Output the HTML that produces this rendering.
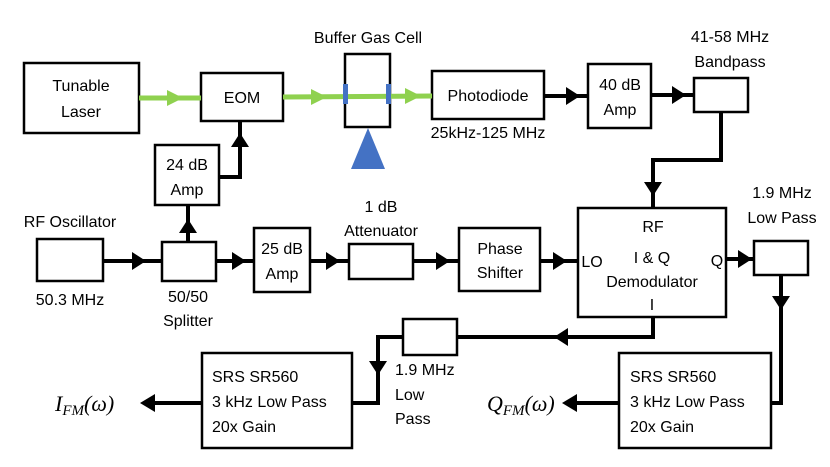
<!DOCTYPE html>
<html><head><meta charset="utf-8"><style>
html,body{margin:0;padding:0;background:#fff;}
svg{display:block;}
text{font-family:"Liberation Sans",sans-serif;font-size:16px;fill:#000;}
.m{font-family:"Liberation Serif",serif;font-style:italic;font-size:22px;}
</style></head><body>
<svg width="830" height="467" viewBox="0 0 830 467" xmlns="http://www.w3.org/2000/svg">
<g fill="none" stroke="#000" stroke-width="2.5">
<rect x="24" y="63" width="115" height="70"/>
<rect x="201" y="73" width="82" height="48"/>
<rect x="345" y="54" width="45" height="73"/>
<rect x="432" y="71" width="112" height="48"/>
<rect x="588" y="64" width="63" height="64"/>
<rect x="694" y="78" width="54" height="34"/>
<rect x="155" y="145" width="64" height="60"/>
<rect x="37" y="239" width="66" height="42"/>
<rect x="162" y="242" width="54" height="39"/>
<rect x="254" y="228" width="56" height="64"/>
<rect x="349" y="244" width="64" height="35"/>
<rect x="459" y="228" width="81" height="63"/>
<rect x="578" y="208" width="148" height="109"/>
<rect x="754" y="241" width="54" height="34"/>
<rect x="403" y="319" width="54" height="36"/>
<rect x="202" y="353" width="150" height="95"/>
<rect x="619" y="353" width="152" height="95"/>
</g>
<g stroke="#8fd14f" stroke-width="5" fill="none">
<line x1="139" y1="98" x2="201" y2="98"/>
<line x1="283" y1="97" x2="432" y2="96"/>
</g>
<g fill="#8fd14f">
<polygon points="167,90 183,98 167,106"/>
<polygon points="311,89 327,97 311,105"/>
<polygon points="405,88 421,96 405,104"/>
</g>
<g fill="#4472c4">
<rect x="343" y="84" width="5" height="20"/>
<rect x="386" y="84" width="5" height="20"/>
<polygon points="368,128 385,169 351,169"/>
</g>
<g stroke="#000" stroke-width="4" fill="none">
<line x1="544" y1="96" x2="588" y2="96"/>
<line x1="651" y1="95" x2="694" y2="95"/>
<polyline points="721,112 721,160 653,160 653,208"/>
<polyline points="219,177 240,177 240,121"/>
<line x1="188" y1="242" x2="188" y2="205"/>
<line x1="103" y1="261" x2="162" y2="261"/>
<line x1="216" y1="261" x2="254" y2="261"/>
<line x1="310" y1="261" x2="349" y2="261"/>
<line x1="413" y1="261" x2="459" y2="261"/>
<line x1="540" y1="261" x2="578" y2="261"/>
<line x1="726" y1="259" x2="754" y2="259"/>
<polyline points="781,275 781,403 771,403"/>
<polyline points="653,317 653,337 457,337"/>
<polyline points="403,337 378,337 378,403 352,403"/>
<line x1="202" y1="403" x2="150" y2="403"/>
<line x1="619" y1="403" x2="572" y2="403"/>
</g>
<g fill="#000">
<polygon points="566,87 580,96 566,105"/>
<polygon points="672,86 686,95 672,104"/>
<polygon points="644,182 662,182 653,196"/>
<polygon points="231,147 249,147 240,133"/>
<polygon points="179,233 197,233 188,219"/>
<polygon points="132,252 146,261 132,270"/>
<polygon points="232,252 246,261 232,270"/>
<polygon points="326,252 340,261 326,270"/>
<polygon points="436,252 450,261 436,270"/>
<polygon points="553,252 567,261 553,270"/>
<polygon points="738,250 752,259 738,268"/>
<polygon points="772,296 790,296 781,310"/>
<polygon points="568,328 568,346 554,337"/>
<polygon points="369,361 387,361 378,375"/>
<polygon points="155,394 155,412 140,403"/>
<polygon points="577,394 577,412 562,403"/>
</g>
<g text-anchor="middle">
<text x="81" y="91">Tunable</text><text x="81" y="117">Laser</text>
<text x="242" y="103">EOM</text>
<text x="368" y="43">Buffer Gas Cell</text>
<text x="488" y="101">Photodiode</text>
<text x="488" y="138">25kHz-125 MHz</text>
<text x="620" y="90">40 dB</text><text x="620" y="115">Amp</text>
<text x="730" y="42">41-58 MHz</text><text x="730" y="67">Bandpass</text>
<text x="187" y="170">24 dB</text><text x="187" y="195">Amp</text>
<text x="70" y="227">RF Oscillator</text>
<text x="70" y="305">50.3 MHz</text>
<text x="188" y="302">50/50</text><text x="188" y="326">Splitter</text>
<text x="282" y="254">25 dB</text><text x="282" y="279">Amp</text>
<text x="381" y="212">1 dB</text><text x="381" y="236">Attenuator</text>
<text x="500" y="254">Phase</text><text x="500" y="278">Shifter</text>
<text x="653" y="232">RF</text>
<text x="652" y="263">I &amp; Q</text>
<text x="652" y="287">Demodulator</text>
<text x="652" y="310">I</text>
<text x="592" y="267">LO</text>
<text x="717" y="266">Q</text>
<text x="782" y="198">1.9 MHz</text><text x="782" y="223">Low Pass</text>
</g>
<text x="395" y="375">1.9 MHz</text><text x="395" y="400">Low</text><text x="395" y="424">Pass</text>
<text x="212" y="382">SRS SR560</text><text x="212" y="407">3 kHz Low Pass</text><text x="212" y="432">20x Gain</text>
<text x="630" y="382">SRS SR560</text><text x="630" y="407">3 kHz Low Pass</text><text x="630" y="432">20x Gain</text>
<text class="m" x="55" y="411">I<tspan font-size="15" dy="4">FM</tspan><tspan dy="-4">(ω)</tspan></text>
<text class="m" x="487" y="411">Q<tspan font-size="15" dy="4">FM</tspan><tspan dy="-4">(ω)</tspan></text>
</svg>
</body></html>
